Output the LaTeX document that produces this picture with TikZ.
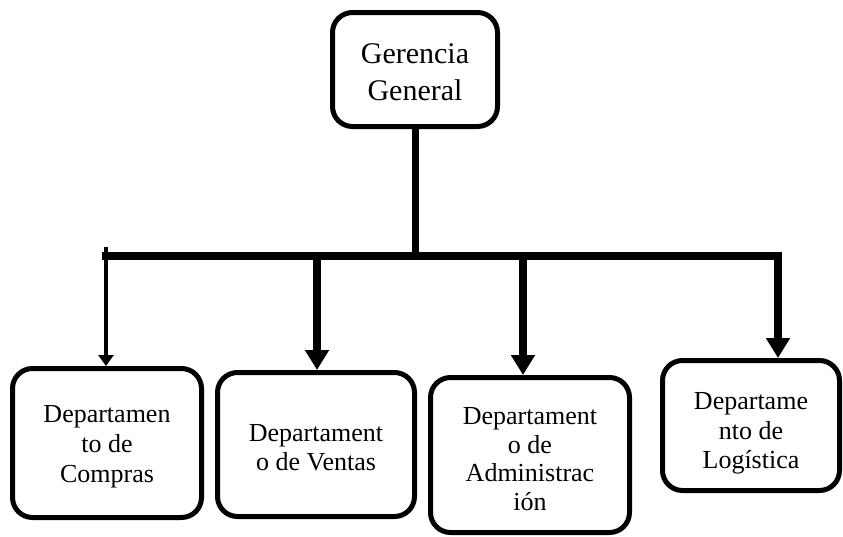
\documentclass[tikz,border=0pt]{standalone}
\usepackage{fontspec}
\setmainfont{Liberation Serif}
\usetikzlibrary{arrows.meta}
\begin{document}
\begin{tikzpicture}[x=1pt,y=-1pt,
  box/.style={draw, line width=5pt, rounded corners=20pt, fill=white},
  boxtext/.style={align=center, inner sep=0pt, font=\fontsize{26}{29.5}\selectfont},
  stem/.style={line width=7pt},
  bar/.style={line width=8pt, line cap=rect},
  arr/.style={line width=8pt, -{Triangle[length=20pt,width=23pt]}},
  thinarr/.style={line width=4.5pt, -{Triangle[length=11pt,width=15pt]}}]
\useasboundingbox (0,0) rectangle (843,536);

% top of the chart
\node[box, minimum width=165pt, minimum height=114pt] (gg) at (415,69.5) {};
\node[boxtext, font=\fontsize{30}{37}\selectfont] (ggt) at ([yshift=-3pt]gg.center)
  {Gerencia\\General};

% departments
\node[box, minimum width=189pt, minimum height=149pt] (d1) at (107,443) {};
\node[boxtext, font=\fontsize{26}{30}\selectfont] (t1) at ([yshift=-4pt]d1.center)
  {Departamen\\to de\\Compras};
\node[box, minimum width=197pt, minimum height=144pt] (d2) at (316,444.5) {};
\node[boxtext, font=\fontsize{26}{28.5}\selectfont] (t2) at ([yshift=-3pt]d2.center)
  {Departament\\o de Ventas};
\node[box, minimum width=199pt, minimum height=155pt] (d3) at (530,455) {};
\node[boxtext, font=\fontsize{26}{28.5}\selectfont] (t3) at ([yshift=-4pt]d3.center)
  {Departament\\o de\\Administrac\\ión};
\node[box, minimum width=177pt, minimum height=130pt] (d4) at (751,425.5) {};
\node[boxtext] (t4) at ([yshift=-8pt]d4.center)
  {Departame\\nto de\\Logística};

% distribution bar
\coordinate (stemfoot) at (415,256);
\coordinate (barL) at (106,256);
\coordinate (barR) at (778,256);
\coordinate (tl) at (106,247);
\coordinate (j2) at (317,256);
\coordinate (j3) at (523,256);

\draw[stem] (gg.south) -- (stemfoot);
\draw[bar] (barL) -- (barR);

% connectors down to each department
\draw[thinarr] (tl) -- (tl |- d1.north);
\draw[arr] (j2) -- (j2 |- d2.north);
\draw[arr] (j3) -- (j3 |- d3.north);
\draw[arr] (barR) -- (barR |- d4.north);
\end{tikzpicture}
\end{document}
